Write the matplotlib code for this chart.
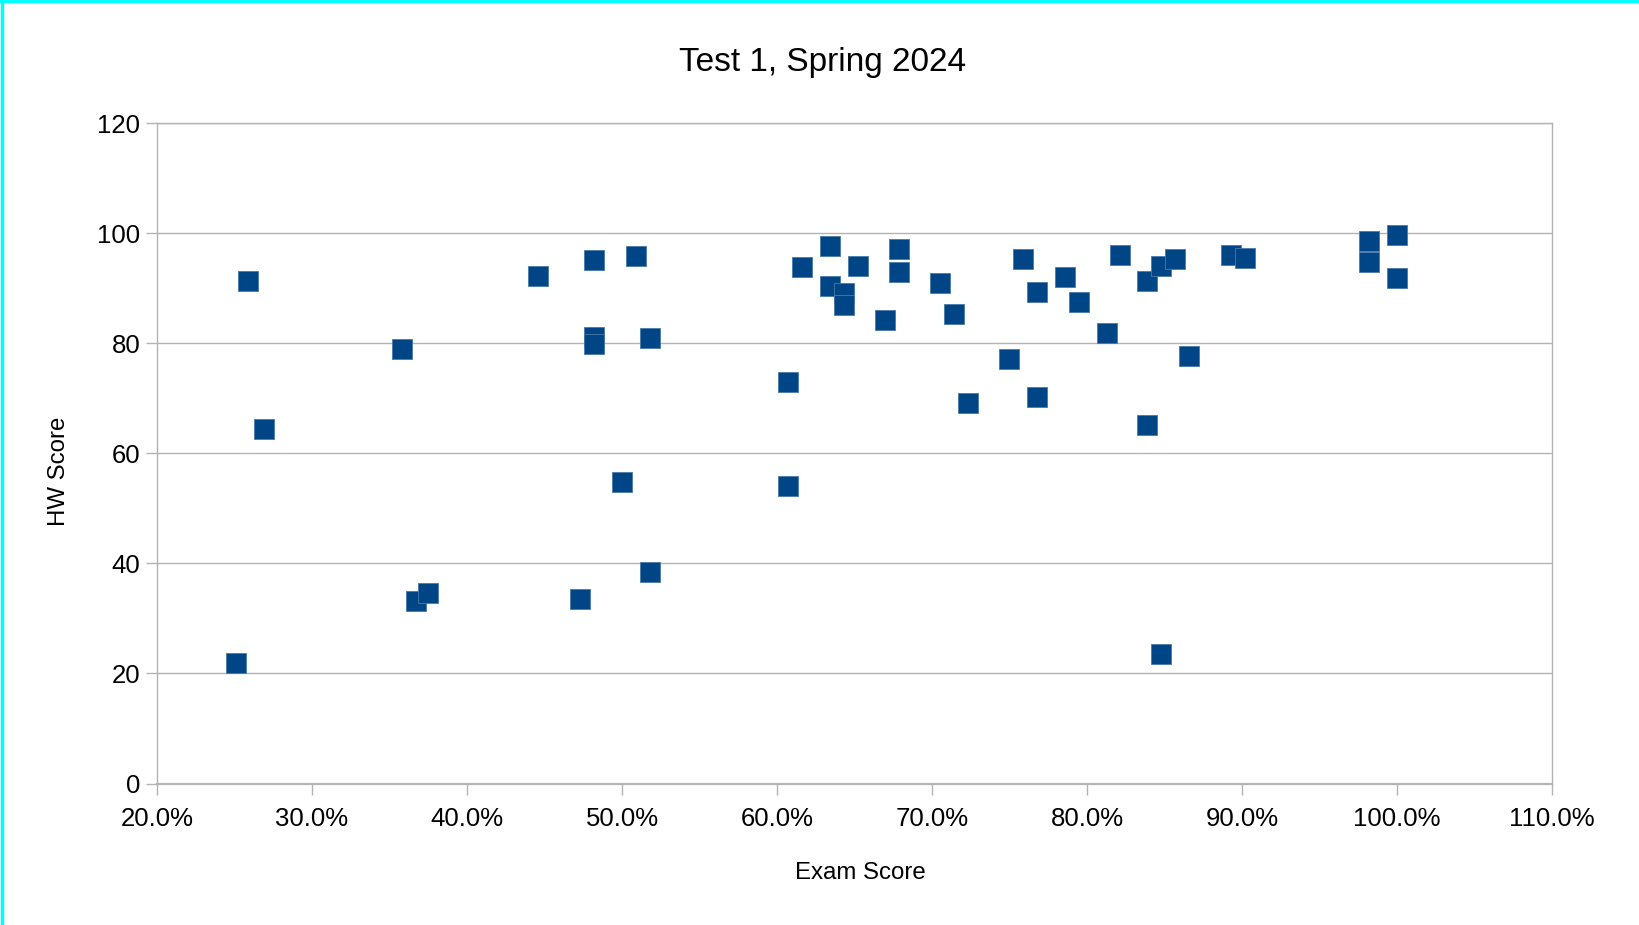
import matplotlib
matplotlib.use("Agg")
import matplotlib.pyplot as plt
from matplotlib.ticker import FuncFormatter, MultipleLocator
from matplotlib.lines import Line2D

plt.rcParams['font.family'] = ['Liberation Sans', 'DejaVu Sans']

# Data (Exam Score in %, HW Score)
exam_pct = [25.9, 26.9, 25.1, 35.8, 36.7, 37.5, 44.6, 48.2, 48.2, 48.2,
            47.3, 50.0, 50.9, 51.8, 51.8, 60.7, 60.7, 61.6, 63.4, 63.4,
            64.3, 64.3, 65.2, 67.0, 67.9, 67.9, 70.5, 71.4, 72.3, 75.0,
            75.9, 76.8, 76.8, 78.6, 79.5, 81.3, 82.1, 83.9, 83.9, 84.8,
            84.8, 85.7, 86.6, 89.3, 90.2, 98.2, 98.2, 100.0, 100.0]
hw_score = [91.4, 64.4, 21.9, 79.0, 33.1, 34.6, 92.3, 95.2, 81.2, 79.9,
            33.6, 54.9, 95.9, 80.9, 38.5, 72.9, 54.0, 93.9, 97.7, 90.5,
            89.1, 87.0, 94.0, 84.2, 97.2, 92.9, 91.0, 85.4, 69.2, 77.1,
            95.4, 89.4, 70.3, 92.0, 87.5, 81.9, 96.1, 91.4, 65.2, 94.1,
            23.6, 95.3, 77.7, 96.1, 95.5, 98.6, 94.8, 99.8, 91.9]

title = "Test 1, Spring 2024"
xlabel = "Exam Score"
ylabel = "HW Score"

fig = plt.figure(figsize=(16.4, 9.25), dpi=100)
ax = fig.add_axes([157/1640, 1 - 783.5/925, (1552-157)/1640, (783.5-123.4)/925])

x = [v / 100 for v in exam_pct]
ax.scatter(x, hw_score, marker='s', s=212, color='#004586',
           edgecolors='#4a7aa8', linewidths=0.6, zorder=3, clip_on=False)

ax.set_xlim(0.2, 1.1)
ax.set_ylim(0, 120)
ax.xaxis.set_major_locator(MultipleLocator(0.1))
ax.yaxis.set_major_locator(MultipleLocator(20))
ax.xaxis.set_major_formatter(FuncFormatter(lambda v, p: f"{v*100:.1f}%"))

ax.grid(axis='y', color='#b3b3b3', linewidth=1.0, zorder=0)
for s in ax.spines.values():
    s.set_color('#b3b3b3')
    s.set_linewidth(1.0)
ax.spines['bottom'].set_linewidth(1.6)
ax.tick_params(axis='both', colors='#b3b3b3', labelcolor='black',
               length=8, width=1.0, labelsize=18.5)
ax.tick_params(axis='x', pad=9)
ax.tick_params(axis='y', pad=4)

fig.text(823/1640, 1 - 62/925, title, ha='center', va='center', fontsize=24)
fig.text(860/1640, 1 - 873/925, xlabel, ha='center', va='center', fontsize=17.3)
fig.text(59/1640, 1 - 471/925, ylabel, ha='center', va='center', fontsize=17.3,
         rotation=90)

# cyan frame on left and top edges
fig.add_artist(Line2D([0.001, 0.001], [0, 1], transform=fig.transFigure,
                      color='#00ffff', linewidth=2.5))
fig.add_artist(Line2D([0, 1], [0.999, 0.999], transform=fig.transFigure,
                      color='#00ffff', linewidth=2.5))

fig.savefig("out.png", dpi=100)
